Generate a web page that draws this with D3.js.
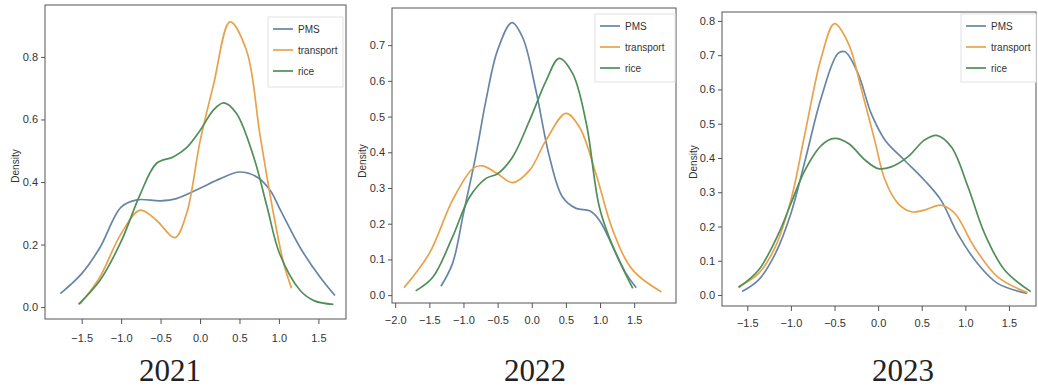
<!DOCTYPE html>
<html>
<head>
<meta charset="utf-8">
<script src="https://cdn.jsdelivr.net/npm/d3@7"></script>
<style>
  body { margin: 0; background: #fff; }
  svg { display: block; }
  .tick text { font-family: "Liberation Sans", Arial, sans-serif; fill: #333; }
</style>
</head>
<body>
<div id="chart"></div>
<script>
  // series names and colours
  var seriesNames = ["PMS", "transport", "rice"];
  var seriesColors = ["#6786a6", "#e9a24c", "#4f8f58"];

  // [x, density]
  var pms2021 = [[-1.77,0.043],[-1.5,0.107],[-1.27,0.19],[-1.0,0.32],[-0.8,0.343],[-0.5,0.34],[-0.3,0.347],[0,0.38],[0.25,0.41],[0.5,0.432],[0.72,0.416],[0.89,0.373],[1.0,0.32],[1.27,0.19],[1.52,0.096],[1.71,0.037]];
  var transport2021 = [[-1.52,0.01],[-1.27,0.096],[-1.0,0.235],[-0.76,0.31],[-0.55,0.277],[-0.32,0.222],[-0.17,0.3],[0,0.53],[0.17,0.71],[0.38,0.912],[0.59,0.82],[0.76,0.55],[0.93,0.3],[1.06,0.14],[1.16,0.06]];
  var rice2021 = [[-1.54,0.009],[-1.27,0.085],[-1.0,0.21],[-0.76,0.36],[-0.55,0.46],[-0.34,0.48],[-0.17,0.51],[0,0.565],[0.17,0.63],[0.3,0.653],[0.46,0.62],[0.68,0.48],[0.85,0.32],[1.01,0.17],[1.27,0.053],[1.45,0.02],[1.69,0.009]];

  var pms2022 = [[-1.33,0.025],[-1.16,0.089],[-1.0,0.229],[-0.82,0.39],[-0.67,0.546],[-0.5,0.686],[-0.29,0.763],[-0.13,0.72],[0.06,0.574],[0.26,0.387],[0.45,0.275],[0.65,0.243],[0.85,0.236],[0.99,0.21],[1.19,0.135],[1.38,0.061],[1.53,0.021]];
  var transport2022 = [[-1.87,0.021],[-1.5,0.117],[-1.16,0.266],[-0.86,0.355],[-0.72,0.362],[-0.5,0.34],[-0.28,0.315],[-0.03,0.35],[0.21,0.434],[0.5,0.509],[0.7,0.47],[0.94,0.34],[1.19,0.18],[1.48,0.07],[1.9,0.009]];
  var rice2022 = [[-1.7,0.012],[-1.45,0.05],[-1.16,0.163],[-0.91,0.275],[-0.67,0.327],[-0.5,0.34],[-0.28,0.387],[-0.03,0.49],[0.21,0.6],[0.4,0.663],[0.6,0.62],[0.8,0.48],[0.99,0.247],[1.19,0.135],[1.48,0.019]];

  var pms2023 = [[-1.56,0.01],[-1.37,0.044],[-1.18,0.12],[-1.0,0.238],[-0.84,0.39],[-0.65,0.578],[-0.46,0.705],[-0.38,0.71],[-0.23,0.646],[-0.08,0.53],[0.08,0.452],[0.3,0.394],[0.53,0.335],[0.72,0.277],[0.91,0.18],[1.14,0.092],[1.37,0.034],[1.71,0.005]];
  var transport2023 = [[-1.6,0.024],[-1.37,0.063],[-1.18,0.14],[-1.0,0.277],[-0.84,0.47],[-0.65,0.695],[-0.5,0.792],[-0.34,0.734],[-0.19,0.598],[-0.04,0.452],[0.08,0.335],[0.23,0.267],[0.38,0.243],[0.53,0.248],[0.72,0.262],[0.88,0.238],[1.1,0.141],[1.37,0.053],[1.71,0.007]];
  var rice2023 = [[-1.6,0.022],[-1.37,0.073],[-1.14,0.18],[-1.0,0.267],[-0.84,0.364],[-0.65,0.437],[-0.5,0.457],[-0.34,0.442],[-0.15,0.394],[0,0.369],[0.15,0.374],[0.34,0.403],[0.53,0.452],[0.67,0.466],[0.84,0.432],[1.03,0.316],[1.22,0.18],[1.45,0.073],[1.75,0.01]];

  // tick values
  var xTicks2021 = [-1.5,-1.0,-0.5,0.0,0.5,1.0,1.5];
  var yTicks2021 = [0.0,0.2,0.4,0.6,0.8];
  var xTicks2022 = [-2.0,-1.5,-1.0,-0.5,0.0,0.5,1.0,1.5];
  var yTicks2022 = [0.0,0.1,0.2,0.3,0.4,0.5,0.6,0.7];
  var xTicks2023 = [-1.5,-1.0,-0.5,0.0,0.5,1.0,1.5];
  var yTicks2023 = [0.0,0.1,0.2,0.3,0.4,0.5,0.6,0.7,0.8];

  var years = ["2021", "2022", "2023"];

  // layout of each panel (pixel box + axis domains)
  var panels = [
    {title: years[0], series: [pms2021, transport2021, rice2021], xTicks: xTicks2021, yTicks: yTicks2021,
     box: {l: 45, r: 346, t: 5, b: 319}, xDom: [-1.965, 1.85], yDom: [-0.038, 0.966],
     ylab: {x: 15, y: 166}, title_xy: [170, 381], legend: {x: 268, y: 17, w: 75, h: 70}, labPad: 10},
    {title: years[1], series: [pms2022, transport2022, rice2022], xTicks: xTicks2022, yTicks: yTicks2022,
     box: {l: 392, r: 676, t: 8, b: 303}, xDom: [-2.047, 2.113], yDom: [-0.022, 0.804],
     ylab: {x: 362, y: 161}, title_xy: [535, 381], legend: {x: 595, y: 14, w: 80, h: 68}, labPad: 8},
    {title: years[2], series: [pms2023, transport2023, rice2023], xTicks: xTicks2023, yTicks: yTicks2023,
     box: {l: 722, r: 1036, t: 12, b: 306}, xDom: [-1.79, 1.81], yDom: [-0.032, 0.826],
     ylab: {x: 693, y: 162}, title_xy: [903, 381], legend: {x: 961, y: 14, w: 75, h: 68}, labPad: 8}
  ];

  var svg = d3.select("#chart").append("svg")
    .attr("width", 1038)
    .attr("height", 391);

  panels.forEach(function (p) {
    var x = d3.scaleLinear().domain(p.xDom).range([p.box.l, p.box.r]);
    var y = d3.scaleLinear().domain(p.yDom).range([p.box.b, p.box.t]);
    var g = svg.append("g");

    // frame
    g.append("rect")
      .attr("x", p.box.l).attr("y", p.box.t)
      .attr("width", p.box.r - p.box.l).attr("height", p.box.b - p.box.t)
      .attr("fill", "none").attr("stroke", "#555").attr("stroke-width", 1);

    var line = d3.line()
      .x(function (d) { return x(d[0]); })
      .y(function (d) { return y(d[1]); })
      .curve(d3.curveCatmullRom.alpha(0.5));

    p.series.forEach(function (s, i) {
      g.append("path")
        .datum(s)
        .attr("d", line)
        .attr("fill", "none")
        .attr("stroke", seriesColors[i])
        .attr("stroke-width", 1.7);
    });

    var xAxis = g.append("g")
      .attr("transform", "translate(0," + p.box.b + ")")
      .call(d3.axisBottom(x).tickValues(p.xTicks).tickFormat(d3.format(".1f"))
        .tickSize(5).tickPadding(p.labPad));
    var yAxis = g.append("g")
      .attr("transform", "translate(" + p.box.l + ",0)")
      .call(d3.axisLeft(y).tickValues(p.yTicks).tickFormat(d3.format(".1f"))
        .tickSize(4).tickPadding(3));
    [xAxis, yAxis].forEach(function (a) {
      a.select(".domain").remove();
      a.selectAll(".tick line").attr("stroke", "#555");
      a.selectAll(".tick text").style("font-size", "11px");
    });

    g.append("text")
      .attr("transform", "translate(" + p.ylab.x + "," + p.ylab.y + ") rotate(-90)")
      .attr("text-anchor", "middle")
      .attr("dy", "0.35em")
      .style("font-family", "Liberation Sans, Arial, sans-serif")
      .style("font-size", "10px")
      .attr("fill", "#333")
      .text("Density");

    // legend
    var lg = g.append("g").attr("transform", "translate(" + p.legend.x + "," + p.legend.y + ")");
    lg.append("rect")
      .attr("width", p.legend.w).attr("height", p.legend.h)
      .attr("fill", "#fff").attr("stroke", "#e2e2e2");
    seriesNames.forEach(function (name, i) {
      var ly = 12 + i * 21;
      lg.append("line")
        .attr("x1", 5).attr("x2", 25).attr("y1", ly).attr("y2", ly)
        .attr("stroke", seriesColors[i]).attr("stroke-width", 1.7);
      lg.append("text")
        .attr("x", 30).attr("y", ly).attr("dy", "0.35em")
        .style("font-family", "Liberation Sans, Arial, sans-serif")
        .style("font-size", "10px")
        .attr("fill", "#333")
        .text(name);
    });

    g.append("text")
      .attr("x", p.title_xy[0]).attr("y", p.title_xy[1])
      .attr("text-anchor", "middle")
      .style("font-family", "Liberation Serif, Times New Roman, serif")
      .style("font-size", "31px")
      .attr("fill", "#222")
      .text(p.title);
  });
</script>
</body>
</html>
